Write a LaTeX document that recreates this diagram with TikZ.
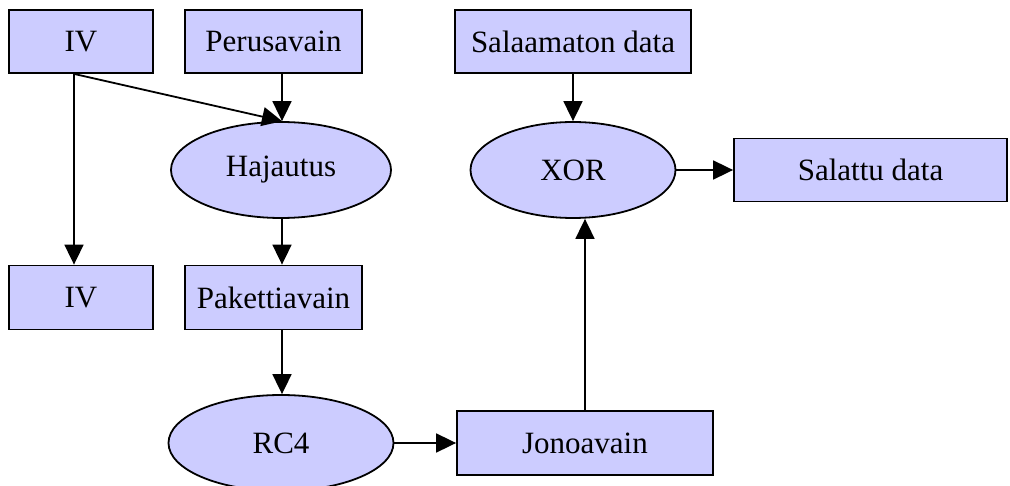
\documentclass[tikz,border=0pt]{standalone}
\usepackage{fontspec}
\setmainfont{Liberation Serif}
\usetikzlibrary{shapes.geometric,arrows.meta,calc}
\definecolor{nodefill}{HTML}{CCCCFF}
\begin{document}
\begin{tikzpicture}[x=1pt,y=-1pt,
  base/.style={draw=black,fill=nodefill,line width=1.8pt,inner sep=0pt,
    font=\fontsize{31}{33}\selectfont},
  boxnode/.style={base,rectangle},
  ovalnode/.style={base,ellipse},
  flow/.style={line width=1.8pt,-{Triangle[length=20pt,width=19pt]}}]
\clip (0,0) rectangle (1010,486);
\useasboundingbox (0,0) rectangle (1010,486);
\fill[white] (0,0) rectangle (1010,486);

% key schedule column
\node[boxnode,minimum width=144pt,minimum height=63pt] (iv1) at (81,41.5) {IV};
\node[boxnode,minimum width=177pt,minimum height=63pt] (perus) at (273.5,41.5) {Perusavain};
\node[ovalnode,minimum width=220pt,minimum height=96pt] (haj) at (281,170) {Hajautus};
\node[boxnode,minimum width=144pt,minimum height=64pt] (iv2) at (81,297.5) {IV};
\node[boxnode,minimum width=177pt,minimum height=64pt] (paket) at (273.5,297.5) {Pakettiavain};
\node[ovalnode,minimum width=225pt,minimum height=96pt] (rc4) at (281,443) {RC4};

% data path
\node[boxnode,minimum width=236pt,minimum height=63pt] (salaam) at (573,41.5) {Salaamaton data};
\node[ovalnode,minimum width=205pt,minimum height=96pt] (xor) at (573,170) {XOR};
\node[boxnode,minimum width=273pt,minimum height=63pt] (salattu) at (870.5,170) {Salattu data};
\node[boxnode,minimum width=256pt,minimum height=64pt] (jono) at (585,443) {Jonoavain};

% connectors
\coordinate (ivout) at ($(iv1.south)+(-7,0)$);
\draw[flow] (ivout) -- ($(iv2.north)+(-7,0)$);
\draw[flow] (ivout) -- ($(haj.north)+(1,0)$);
\draw[flow] ($(perus.south)+(8.5,0)$) -- ($(haj.north)+(1,0)$);
\draw[flow] ($(haj.south)+(1,0)$) -- ($(paket.north)+(8.5,0)$);
\draw[flow] ($(paket.south)+(8.5,0)$) -- ($(rc4.north)+(1,0)$);
\draw[flow] (rc4.east) -- (rc4.east -| jono.west);
\draw[flow] (salaam.south) -- (salaam.south |- xor.north);
\draw[flow] (jono.north) -- (jono.north |- xor.south);
\draw[flow] (xor.east) -- (xor.east -| salattu.west);
\end{tikzpicture}
\end{document}
